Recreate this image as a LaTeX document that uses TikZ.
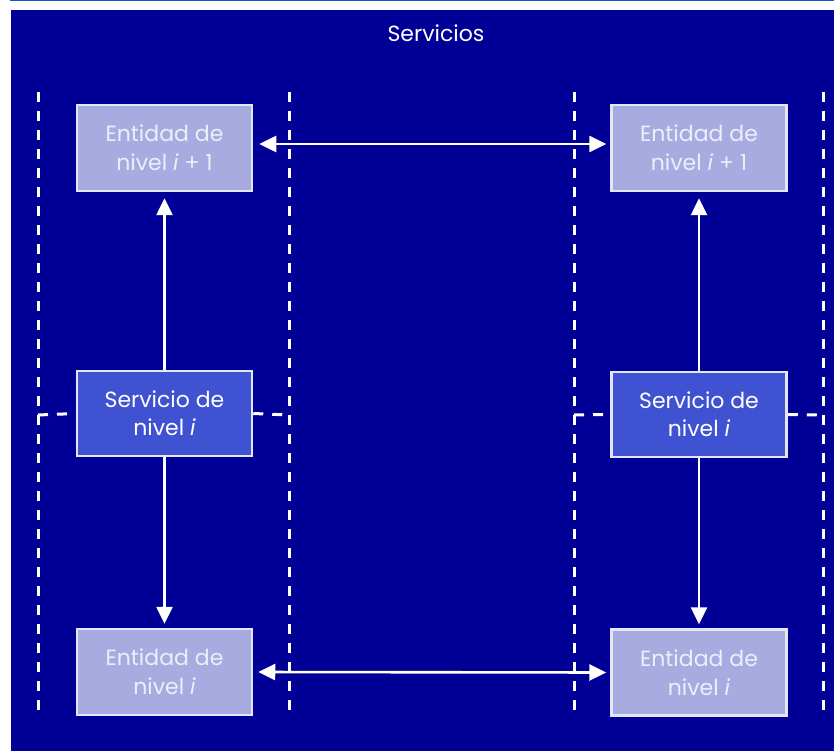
\documentclass[tikz,border=0pt]{standalone}
\usepackage{fontspec}
\setmainfont{Poppins}
\usetikzlibrary{arrows.meta}
\definecolor{bgblue}{RGB}{0,0,150}
\definecolor{topline}{RGB}{30,80,192}
\definecolor{entfill}{RGB}{168,171,223}
\definecolor{entborder}{RGB}{228,230,248}
\definecolor{enttext}{RGB}{236,238,250}
\definecolor{servfill}{RGB}{62,82,210}
\tikzset{
  entbox/.style={draw=entborder, line width=2.5pt, fill=entfill, text=enttext,
    minimum width=175pt, minimum height=86pt, align=center, inner sep=0pt,
    font=\fontsize{22}{29}\selectfont},
  servbox/.style={draw=entborder, line width=2.5pt, fill=servfill, text=white,
    minimum width=175pt, minimum height=85pt, align=center, inner sep=0pt,
    font=\fontsize{22}{28}\selectfont},
  sep/.style={draw=white, line width=3pt, dash pattern=on 10pt off 9pt},
  conn/.style={draw=white, line width=2.6pt, -{Triangle[length=17pt,width=16pt]}},
  conn2/.style={draw=white, line width=2.6pt, {Triangle[length=17pt,width=16pt]}-{Triangle[length=17pt,width=16pt]}},
}
\begin{document}
\begin{tikzpicture}[x=1pt,y=-1pt]
\useasboundingbox (0,0) rectangle (834,751);
\fill[white] (0,0) rectangle (834,751);
\fill[topline] (10,0) rectangle (834,1.5);
\fill[bgblue] (11,10) rectangle (834,751);

\node[text=white, font=\fontsize{22}{26}\selectfont] (title) at (436,33) {Servicios};

% separators
\foreach \x in {38,289,574,823} {
  \draw[sep] (\x,92) -- (\x,716);
}

\node[entbox] (T1) at (164.5,148) {Entidad de\\nivel \textit{i} + 1};
\node[servbox] (S1) at (164.5,413.5) {Servicio de\\nivel \textit{i}};
\node[entbox] (B1) at (164.5,672) {Entidad de\\nivel \textit{i}};
\node[entbox] (T2) at (699,148) {Entidad de\\nivel \textit{i} + 1};
\node[servbox] (S2) at (699,414.5) {Servicio de\\nivel \textit{i}};
\node[entbox] (B2) at (699,672.5) {Entidad de\\nivel \textit{i}};

\coordinate (L1) at (38,415);
\coordinate (R1) at (289,415);
\coordinate (L2) at (574,415);
\coordinate (R2) at (823,415);
\draw[sep] (L1) -- (S1.west);
\draw[sep] (S1.east) -- (R1);
\draw[sep] (L2) -- (S2.west);
\draw[sep] (S2.east) -- (R2);

\draw[conn, shorten >=6pt] (S1.north) -- (T1.south);
\draw[conn, shorten >=4pt] (S1.south) -- (B1.north);
\draw[conn, shorten >=6pt] (S2.north) -- (T2.south);
\draw[conn, shorten >=4pt] (S2.south) -- (B2.north);
\draw[conn2, shorten >=4pt, shorten <=6pt] ([yshift=4pt]T1.east) -- ([yshift=4pt]T2.west);
\draw[conn2, shorten >=4pt, shorten <=5pt] (B1.east) -- (B2.west);
\end{tikzpicture}
\end{document}
